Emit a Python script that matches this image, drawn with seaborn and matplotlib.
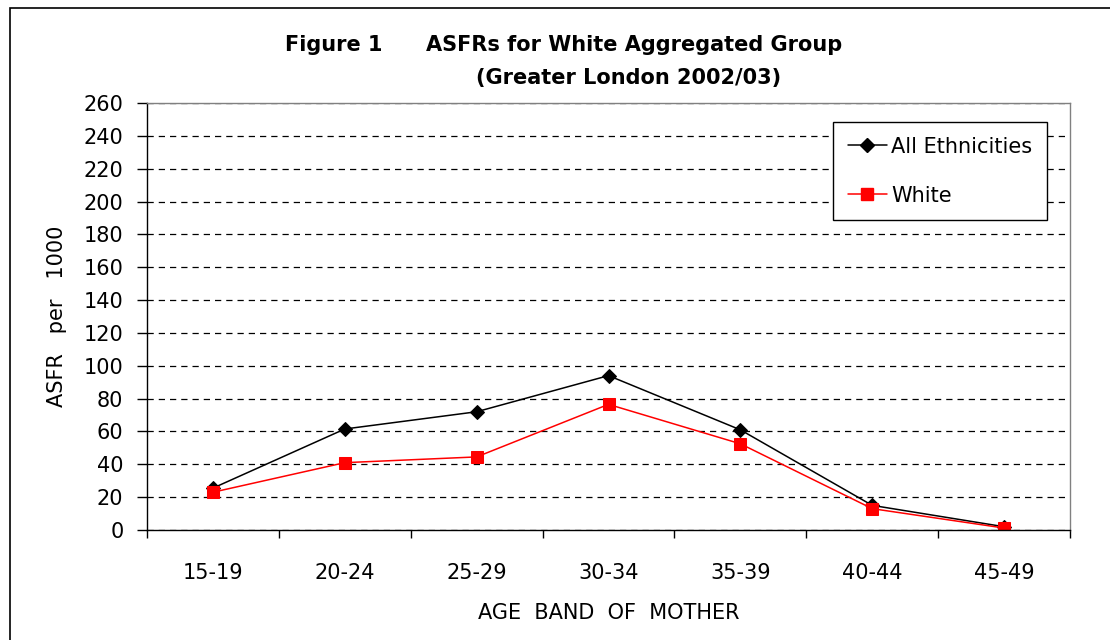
import matplotlib
matplotlib.use("Agg")
import matplotlib.pyplot as plt
import seaborn as sns
import pandas as pd
from matplotlib.patches import Rectangle
from matplotlib.lines import Line2D
from matplotlib.ticker import FixedLocator, NullFormatter

age_bands = ["15-19", "20-24", "25-29", "30-34", "35-39", "40-44", "45-49"]
all_ethnicities = [25.5, 61.5, 72, 94, 61, 15, 2]
white = [23, 41, 44.5, 76.5, 52.5, 13, 1.2]
y_ticks = list(range(0, 261, 20))

sns.set_theme(style="white")
plt.rcParams["font.family"] = ["DejaVu Sans"]
plt.rcParams["text.color"] = "black"
plt.rcParams["axes.labelcolor"] = "black"
plt.rcParams["xtick.color"] = "black"
plt.rcParams["ytick.color"] = "black"

idx = list(range(len(age_bands)))
df = pd.DataFrame({
    "idx": idx * 2,
    "ASFR": all_ethnicities + white,
    "series": ["All Ethnicities"] * len(idx) + ["White"] * len(idx),
})

fig = plt.figure(figsize=(11.1, 6.4), dpi=100)
ax = fig.add_axes([147 / 1110, 110 / 640, (1070 - 147) / 1110, (530 - 103) / 640])

sns.lineplot(data=df, x="idx", y="ASFR", hue="series", style="series",
             palette={"All Ethnicities": "black", "White": "#ff0000"},
             markers={"All Ethnicities": "D", "White": "s"},
             dashes=False, markersize=9, linewidth=1.1,
             ax=ax, legend=False)
for ln, mec in zip(ax.lines, ["black", "#ff0000"]):
    ln.set_markeredgecolor(mec)
ax.lines[0].set_markersize(7.5)

ax.set_xlim(-0.5, len(age_bands) - 0.5)
ax.set_ylim(0, 260)
ax.set_yticks(y_ticks)
ax.yaxis.grid(True, color="black", linestyle=(0, (5, 4)), linewidth=0.9)
ax.set_axisbelow(True)

ax.xaxis.set_major_locator(FixedLocator([i - 0.5 for i in range(len(age_bands) + 1)]))
ax.xaxis.set_major_formatter(NullFormatter())
ax.xaxis.set_minor_locator(FixedLocator(idx))
ax.set_xticklabels(age_bands, minor=True)
ax.tick_params(axis="x", which="major", length=6, width=1, color="black", direction="out", bottom=True)
ax.tick_params(axis="x", which="minor", length=0, labelsize=15, pad=24, bottom=True,
               labelcolor="black")
ax.tick_params(axis="y", length=7.5, width=1, color="black", direction="out", labelsize=15,
               pad=9.5, left=True, labelcolor="black")

for s in ["left", "bottom"]:
    ax.spines[s].set_color("black")
    ax.spines[s].set_linewidth(1)
for s in ["top", "right"]:
    ax.spines[s].set_color("#808080")
    ax.spines[s].set_linewidth(1)

ax.set_xlabel("AGE  BAND  OF  MOTHER", fontsize=15, labelpad=14, color="black")
ax.set_ylabel("ASFR   per   1000", fontsize=15, labelpad=12, color="black")

handles = [
    Line2D([], [], color="black", marker="D", markersize=7.5, linewidth=1.1),
    Line2D([], [], color="#ff0000", marker="s", markersize=9, linewidth=1.1),
]
leg = ax.legend(handles, ["All Ethnicities", "White"], loc="upper left",
                bbox_to_anchor=((833 - 147) / 923, (530 - 122) / 427),
                fontsize=15, frameon=True, fancybox=False, framealpha=1,
                handlelength=1.9, handletextpad=0.2, labelspacing=1.4,
                borderpad=0.7, borderaxespad=0)
leg.get_frame().set_edgecolor("black")
leg.get_frame().set_linewidth(1)
for t in leg.get_texts():
    t.set_color("black")

fig.text(564 / 1110, 1 - 45 / 640, "Figure 1      ASFRs for White Aggregated Group",
         ha="center", va="center", fontsize=15, fontweight="bold", color="black")
fig.text(629 / 1110, 1 - 78 / 640, "(Greater London 2002/03)",
         ha="center", va="center", fontsize=15, fontweight="bold", color="black")

fig.patches.append(Rectangle((10 / 1110, -0.05), 1.1, 1 - 8 / 640 + 0.05,
                             transform=fig.transFigure, fill=False,
                             edgecolor="black", linewidth=1.2))

fig.savefig("out.png", dpi=100)
